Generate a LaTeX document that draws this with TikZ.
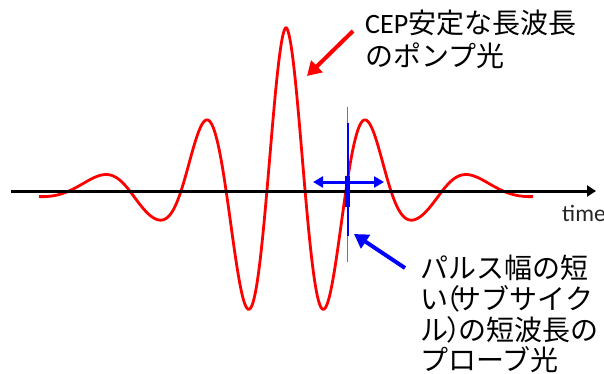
\documentclass[tikz,border=0pt]{standalone}
\usepackage{fontspec}
\setmainfont{Carlito}
\newfontfamily\cjk{Noto Sans CJK JP}
\usetikzlibrary{arrows.meta}
\tikzset{
  wave/.style={draw=red, line width=2.8pt, line join=round},
  axisline/.style={draw=black, line width=3pt, -{Triangle[length=9pt,width=11pt]}},
  redarrow/.style={draw=red, line width=4pt, -{Triangle[length=14pt,width=16pt]}},
  bluearrow/.style={draw=blue, line width=4pt, -{Triangle[length=14pt,width=16pt]}},
  spanarrow/.style={draw=blue, line width=3pt, {Triangle[length=10pt,width=11pt]}-{Triangle[length=10pt,width=11pt]}},
  jtext/.style={anchor=base west, inner sep=0pt, font=\fontsize{28pt}{30pt}\selectfont},
  timetext/.style={anchor=base west, inner sep=0pt, font=\fontsize{23.5pt}{26pt}\selectfont, text=black!85}
}
\begin{document}
\begin{tikzpicture}[x=1pt,y=-1pt]
\useasboundingbox[fill=white] (0,0) rectangle (604,374);
% wave
\draw[wave] plot[domain=-247:247, samples=700]
  ({286+\x}, {191 - 163.5*exp(-0.322*pow((abs(\x)+0.01)/38,1.25))*(1-0.23*exp(-pow((abs(\x)-129)/28,2)))*cos(180*(2.67*\x/100 - 0.275*(\x/100)*abs(\x/100)))});
% axis
\coordinate (axL) at (11,191);
\coordinate (axR) at (596,191);
\draw[axisline] (axL) -- (axR);
\node[timetext] (time) at (562,221) {time};
% blue probe marker
\coordinate (vT) at (347.7,107);
\coordinate (vB) at (347.7,262);
\coordinate (vmT) at (347.7,123);
\coordinate (vmB) at (347.7,236);
\coordinate (vcT) at (347.7,176);
\coordinate (vcB) at (347.7,207);
\draw[blue!60, line width=1.3pt] (vT) -- (vB);
\draw[blue, line width=2.2pt] (vmT) -- (vmB);
\draw[blue, line width=4.5pt] (vcT) -- (vcB);
\coordinate (hL) at (313,182);
\coordinate (hR) at (384,182);
\draw[spanarrow] (hL) -- (hR);
% arrows to labels
\coordinate (rTail) at (353,31);
\coordinate (rTip) at (307,76);
\draw[redarrow] (rTail) -- (rTip);
\coordinate (bTail) at (405,268);
\coordinate (bTip) at (354,234);
\draw[bluearrow] (bTail) -- (bTip);
% labels
\node[jtext] (pump1) at (365,34) {CEP{\cjk 安定な長波長}};
\node[jtext] (pump2) at (365,67) {\cjk のポンプ光};
\node[jtext] (probe1) at (420,278) {\cjk パルス幅の短};
\node[jtext] (probe2) at (420,309) {\cjk い\kern-0.56em（\kern-0.24em サブサイク};
\node[jtext] (probe3) at (420,340) {\cjk ル\kern-0.05em）\kern-0.6em の短波長の};
\node[jtext] (probe4) at (420,370) {\cjk プローブ光};
\end{tikzpicture}
\end{document}
